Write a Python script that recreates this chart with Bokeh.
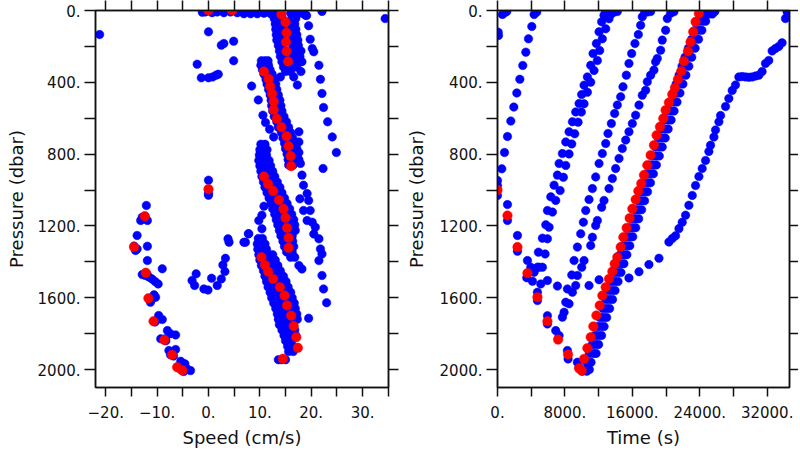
from bokeh.plotting import figure
from bokeh.layouts import row
from bokeh.models import Range1d, FixedTicker, LinearAxis, CustomJSTickFormatter
from bokeh.embed import file_html
from bokeh.resources import INLINE

# ---------------- ticks ----------------
SPEED_TICKS = [-20, -10, 0, 10, 20, 30]
SPEED_LABELS = ["\u221220.", "\u221210.", "0.", "10.", "20.", "30."]
SPEED_MINOR = [-15, -5, 5, 15, 25, 35]
TIME_TICKS = [0, 8000, 16000, 24000, 32000]
TIME_LABELS = ["0.", "8000.", "16000.", "24000.", "32000."]
TIME_MINOR = [4000, 12000, 20000, 28000]
PRES_TICKS = [0, 400, 800, 1200, 1600, 2000]
PRES_LABELS = ["0.", "400.", "800.", "1200.", "1600.", "2000."]
PRES_MINOR = [200, 600, 1000, 1400, 1800]

# ---------------- left panel: speed vs pressure ----------------
top_row_s = [-1.2, -0.6, 0.7, 1.7, 3.0, 4.3, 5.6, 6.9, 8.2, 9.5, 10.8, 12.1, 12.7, 16.6, 17.6, 18.5, 19.1, 22.1, 34.4, -21.2, 18.9]
top_row_p = [10, 8, 12, 8, 12, 8, 12, 18, 18, 18, 15, 18, 15, 18, 15, 18, 28, 5, 45, 134, 26]

scatter_s = [0.0, 2.5, 3.0, 4.9, -2.2, 4.9, -1.4, 0.0, 0.8, 1.5, 1.9, 8.4, 9.7, 0.0, 0.0, 0.0,
             10.6, 11.1, 11.9, 12.7]
scatter_p = [119, 193, 184, 171, 299, 280, 375, 375, 370, 360, 355, 421, 498, 945, 1018, 1029,
             583, 624, 661, 704]

far_right_s = [19.5, 19.8, 20.2, 20.5, 21.5, 21.8, 22.1, 22.4, 23.2, 24.1, 24.9, 22.3,
               17.6, 17.6, 17.6, 17.9, 18.2, 18.5, 19.2,
               17.8, 18.5, 19.5, 19.2, 19.8, 20.2, 20.5, 20.8, 21.5, 21.8, 22.1, 21.5, 22.1, 22.4, 23.0, 19.5,
               17.6, 18.2]
far_right_p = [85, 160, 212, 230, 305, 383, 462, 540, 620, 704, 791, 880,
               676, 732, 791, 852, 917, 973, 1020,
               1049, 1114, 1058, 1170, 1114, 1179, 1245, 1207, 1272, 1328, 1356, 1393, 1476, 1551, 1628, 1714,
               1420, 1440]

# dense bands: rows of pressure with the speeds seen on that row
band_u_p = [15, 45, 75, 105, 135, 165, 195, 225, 255, 285, 315, 340, 370, 415]
band_u_s = [[13.5, 14.2, 16.0], [12.8, 13.6, 14.4, 16.2, 17.0], [13.0, 13.8, 14.3, 16.0, 16.8],
            [13.1, 13.9, 14.5, 16.1, 17.0], [13.2, 14.0, 14.6, 16.3, 17.2], [13.3, 14.1, 16.2, 17.4],
            [13.6, 14.3, 16.4, 17.5], [13.8, 14.5, 16.3, 17.6, 18.0], [14.0, 14.8, 16.5, 17.8],
            [14.3, 15.0, 16.2, 17.6, 18.2], [14.6, 15.6, 16.5, 17.2], [15.0, 16.0, 18.0], [14.0, 16.6], [17.3]]

band_2_p = [280, 305, 330, 355, 385, 410, 440, 470, 500, 530, 560, 590, 620, 650, 680, 710, 740, 770, 800, 830, 860]
band_2_s = [[10.3, 11.0, 11.6], [10.2, 10.9, 11.7], [10.5, 11.4, 12.0], [10.8, 11.6, 12.4], [11.2, 12.2, 12.8],
            [11.4, 12.5, 13.1], [11.7, 12.8, 13.3], [12.0, 13.0, 13.6], [12.2, 13.3, 13.9], [12.3, 13.5, 14.1],
            [12.5, 13.6, 14.3], [12.8, 14.0, 14.7], [13.3, 14.3, 15.2], [13.6, 14.7, 15.6], [14.2, 15.0, 16.0],
            [14.5, 15.8, 16.4], [14.8, 16.2, 16.9], [15.0, 16.4, 17.2], [15.3, 16.6], [15.5, 16.8, 17.6], [15.6, 16.5]]

band_3_p = [745, 775, 805, 835, 865, 895, 925, 955, 985, 1015, 1045, 1075, 1105, 1135, 1165, 1195, 1225,
            1255, 1285, 1315, 1345, 1375, 1090, 1140, 1170, 1216, 1244, 1291]
band_3_s = [[10.2, 11.0], [10.0, 10.8, 11.4], [9.9, 10.6, 11.3], [9.8, 10.5, 11.2, 11.8], [10.0, 10.7, 11.4, 12.1],
            [10.2, 11.0, 11.8, 12.5], [10.4, 11.4, 12.2, 12.9], [10.7, 11.7, 12.6, 13.4], [11.0, 12.0, 13.1, 13.9],
            [11.4, 12.4, 13.5, 14.3], [11.8, 12.9, 14.0, 14.8], [12.2, 13.3, 14.4, 15.3], [12.5, 13.8, 14.9, 15.8],
            [12.9, 14.2, 15.3, 16.2], [13.2, 14.4, 15.6, 16.6], [13.5, 14.6, 15.8, 16.8], [13.8, 14.9, 16.1, 16.9],
            [14.1, 15.1, 16.3], [14.5, 15.3, 16.4], [14.8, 15.9, 16.6], [15.2, 16.3], [16.0, 16.8],
            [10.8], [10.4], [9.8], [10.4], [7.8], [7.2]]

band_4_p = [1270, 1300, 1330, 1360, 1390, 1420, 1450, 1480, 1510, 1540, 1570, 1600, 1630, 1660, 1690,
            1720, 1750, 1780, 1810, 1840, 1870, 1900, 1945]
band_4_s = [[9.7, 10.5], [9.5, 10.2, 11.0], [9.6, 10.4, 11.3], [9.8, 10.8, 11.7, 12.5], [10.0, 11.1, 12.2, 13.0],
            [10.3, 11.4, 12.6, 13.5], [10.7, 11.9, 13.0, 14.0], [11.0, 12.3, 13.5, 14.6], [11.3, 12.8, 14.0, 15.1],
            [11.6, 13.2, 14.4, 15.5], [12.0, 13.5, 14.9, 16.0], [12.3, 13.9, 15.2, 16.3], [12.7, 14.2, 15.6, 16.7],
            [13.1, 14.5, 15.8, 16.9], [13.4, 14.8, 16.0, 17.2], [13.6, 15.0, 16.3, 17.3], [13.8, 15.3, 16.5],
            [14.3, 15.6, 16.8], [14.7, 15.9, 17.0], [15.0, 16.2], [15.4, 16.4], [15.6, 16.5], [13.6, 14.2, 15.0]]

hook_s = [-12.1, -12.9, -13.2, -11.9, -12.4, -13.9, -14.5, -13.9, -11.9, -14.2, -11.9, -9.0, -12.9, -12.3,
          -11.6, -11.0, -10.4, -9.8, -10.6, -10.3, -11.0, -11.3, -9.7, -9.0, -10.0, -8.0, -7.4, -6.4, -9.3,
          -8.4, -7.7, -6.4, -7.4, -5.4, -4.6, -5.8, -4.2, -3.5, -4.8,
          -12.6, -14.3, -12.0, -11.5, -10.4, -8.3, -6.8, -5.6]
hook_p = [1086, 1151, 1170, 1170, 1146, 1253, 1312, 1328, 1313, 1337, 1393, 1439, 1471, 1476,
          1485, 1495, 1509, 1523, 1584, 1597, 1607, 1625, 1699, 1721, 1721, 1783, 1801, 1807, 1829,
          1829, 1894, 1888, 1918, 1954, 1968, 1987, 1996, 2006, 2011,
          1160, 1325, 1468, 1610, 1735, 1840, 1925, 1995]

mid_u_s = [6.9, 7.8, 3.8, 4.0, 3.3, 2.8, 3.2, 2.5, 1.7, 0.6, -0.1, -0.9, -2.7, -3.2, -2.4]
mid_u_p = [1291, 1244, 1272, 1291, 1380, 1417, 1454, 1495, 1532, 1491, 1557, 1551, 1532, 1504, 1467]

red_speed = [0.0, 4.6, 14.2, 15.0, 15.2, 15.1, 15.2, 15.5, 10.8, 11.7, 12.0, 12.4, 12.7, 12.7, 13.3, 14.2,
             15.2, 15.6, 16.0, 16.1, 10.8, 11.6, 12.6, 13.7, 14.6, 15.0, 15.3, 15.6, 15.6, 10.3, 11.0, 11.6,
             12.6, 13.9, 14.8, 15.3, 16.1, 16.6, 17.1, 17.4, 14.5, 0.0, -12.4, -14.5, -12.2, -11.7, -10.7,
             -8.6, -7.1, -6.1, -5.1]
red_speed_p = [0, 0, 22, 65, 124, 176, 228, 284, 340, 381, 423, 464, 507, 553, 603, 650,
               700, 756, 811, 867, 925, 966, 1006, 1055, 1105, 1155, 1211, 1266, 1322, 1374, 1417, 1454,
               1495, 1541, 1588, 1643, 1700, 1758, 1820, 1879, 1940, 995, 1146, 1318, 1461, 1603, 1731,
               1835, 1918, 1987, 2005]

# ---------------- right panel: time vs pressure ----------------
tr1_t = [0, 0, 0, 80, 120, 590, 870, 1100, 510, 830, 1185, 1580, 1935, 2290, 2650, 3000, 3360, 3675, 4070, 4345, 4660]
tr1_p = [947, 975, 1030, 121, 139, 22, 11, 6, 882, 791, 702, 616, 538, 459, 383, 306, 232, 158, 89, 22, 9]

tr2_t = [1185, 1185, 2370, 2370, 3555, 3475, 4150, 3950, 4740, 4740, 5925, 5925, 6910, 7310, 8295, 8375,
         9480, 9680, 10070, 10585, 4740, 5330, 4345, 5135, 5925, 7110]
tr2_p = [1081, 1170, 1253, 1341, 1393, 1489, 1508, 1430, 1569, 1616, 1700, 1746, 1783, 1811, 1894, 1941,
         1959, 1987, 2009, 2009, 1430, 1430, 1458, 1523, 1504, 1535]

tr3_t = [4860, 5330, 5730, 5925, 6320, 6715, 7110, 7310, 7700, 8100, 8490, 8890, 9280, 9680, 9990, 10270,
         10665, 11060, 11340, 11730, 12050, 12360, 12640, 12840,
         5650, 5925, 6120, 6520, 6910, 7430, 7820, 8100, 8490, 8810, 9165, 9560, 9955, 10270, 10665, 11060,
         11455, 11850, 12125, 12440, 12840, 13230, 13510, 13825, 14220, 4940]
tr3_p = [1346, 1268, 1194, 1114, 1038, 973, 917, 852, 797, 732, 676, 620, 565, 518, 468, 416,
         370, 305, 240, 184, 119, 63, 26, 7,
         1356, 1272, 1207, 1123, 1058, 1003, 929, 863, 799, 743, 687, 622, 566, 520, 455, 399,
         334, 279, 223, 158, 102, 46, 19, 9, 6, 1430]

tr4_t = [7700, 7900, 8100, 8490, 8295, 8890, 9280, 8810, 9480, 9085, 9480, 9875, 10190, 10470, 10860, 11260,
         11650, 12050, 12440, 12840, 13110, 13510, 13900, 14220, 14615, 14890, 15290, 15600, 15920, 16310,
         16710, 16985, 17180, 17460, 17775, 18170]
tr4_p = [1708, 1681, 1625, 1634, 1551, 1569, 1532, 1473, 1476, 1393, 1318, 1244, 1179, 1114, 1053, 992,
         927, 852, 797, 741, 685, 630, 574, 527, 481, 425, 360, 295, 240, 184,
         134, 82, 35, 7, 9, 6]

tr5_t = [10860, 9990, 10270, 11060, 11260, 11650, 11850, 12360, 12640, 13230, 13630, 14020, 14420, 14810,
         15210, 15600, 16000, 16390, 16790, 17180, 17580, 17775, 18170, 18565, 18760, 18960, 19355, 19550,
         19950, 20145, 20540, 20935]
tr5_p = [1532, 1430, 1393, 1309, 1263, 1198, 1170, 1096, 1058, 992, 936, 880, 824, 769,
         722, 676, 630, 583, 527, 472, 444, 397, 360, 332, 286, 267, 221, 165,
         110, 45, 15, 7]

tr6_t = [12050, 15600, 16790, 17970, 19160, 20340, 20740, 21130, 21530, 21920, 22320, 22710, 23110, 23500,
         23900, 24290, 24690, 25080, 25280, 25680, 25870, 26270, 26470, 27060, 27450, 27850, 28240, 28640,
         29030, 29430, 29820, 30220, 30620, 31010, 31400, 31800, 32190, 32590, 32980, 33380, 33770, 34170, 34370]
tr6_p = [1500, 1490, 1455, 1415, 1380, 1290, 1270, 1255, 1215, 1180, 1140, 1085, 1030, 975,
         925, 880, 835, 785, 750, 705, 665, 620, 585, 535, 490, 445, 415, 370,
         368, 370, 372, 370, 365, 360, 340, 295, 278, 225, 212, 200, 180, 45, 8]

band_d_p = [2000, 1960, 1910, 1860, 1810, 1760, 1710, 1660, 1610, 1560, 1510, 1460, 1410, 1360, 1310, 1260,
            1210, 1160, 1110, 1060, 1010, 960, 910, 860, 810, 760, 710, 660, 610, 560, 510, 460, 410, 360,
            310, 260, 210, 160, 110, 60, 20, 5]
band_d_t = [[10450, 10900], [10600, 11100], [10900, 11350, 11700], [11250, 11650, 12000], [11550, 11950, 12350],
            [11850, 12250, 12650], [12150, 12550, 12950], [12500, 12900, 13300], [12850, 13250, 13650],
            [13150, 13550, 13950], [13500, 13900, 14300], [13850, 14250, 14650], [14200, 14600, 15000],
            [14550, 14950, 15350], [14900, 15300, 15700], [15250, 15650, 16050], [15600, 16000, 16400],
            [15950, 16350, 16750], [16300, 16700, 17100], [16650, 17050, 17450], [17000, 17400, 17800],
            [17350, 17750, 18150], [17700, 18100, 18500], [18050, 18450, 18850], [18400, 18800, 19200],
            [18750, 19150, 19550], [19100, 19500, 19900], [19450, 19850, 20250], [19800, 20200, 20600],
            [20150, 20550, 20950], [20500, 20900, 21300], [20850, 21250, 21650], [21200, 21600, 22000],
            [21550, 21950, 22350], [21900, 22300, 22700], [22250, 22650, 23050], [22650, 23050, 23450],
            [23050, 23450, 23850], [23450, 23850, 24250], [23900, 24300, 24700], [24300, 24700, 25100, 25500],
            [24600, 25000, 25400, 25800]]

red_time = [0, 1185, 2370, 3555, 4740, 5925, 7190, 8370, 9680, 9990,
            10270, 10665, 11060, 11376, 11732, 12127, 12443, 12838, 13233, 13628, 13904, 14220, 14615, 14931,
            15326, 15682, 15998, 16393, 16710, 17064, 17380, 17775, 18170, 18565, 18881, 19276, 19671, 19948,
            20343, 20738, 21054, 21409, 21804, 22120, 22594, 22910, 23226, 23503, 23898]
red_time_p = [1000, 1142, 1318, 1463, 1597, 1731, 1833, 1916, 1993, 2006,
              1941, 1881, 1820, 1760, 1699, 1643, 1588, 1541, 1495, 1454, 1411, 1374, 1318, 1263,
              1211, 1157, 1105, 1053, 1006, 964, 917, 862, 806, 750, 695, 648, 602, 555,
              513, 468, 431, 384, 338, 282, 227, 175, 119, 63, 17]

BLUE = "#0000ff"
RED = "#ff0000"
FONT = "DejaVu Sans"
INK = "#111111"


def expand(rows_p, rows_v):
    xs, ys = [], []
    for pv, vals in zip(rows_p, rows_v):
        for v in vals:
            xs.append(v)
            ys.append(pv)
    return xs, ys


def style_axis(ax, ticks, minor, labels, show_labels, tick_out=10):
    ax.ticker = FixedTicker(ticks=ticks, minor_ticks=minor)
    ax.major_tick_out = tick_out
    ax.major_tick_in = 0
    ax.minor_tick_out = tick_out
    ax.minor_tick_in = 0
    ax.major_tick_line_color = INK
    ax.minor_tick_line_color = INK
    ax.major_tick_line_width = 1.5
    ax.minor_tick_line_width = 1.5
    ax.axis_line_color = INK
    ax.axis_line_width = 1.5
    if show_labels:
        ax.major_label_overrides = dict(zip(ticks, labels))
        ax.major_label_text_font = FONT
        ax.major_label_text_font_size = "15px"
        ax.major_label_text_color = INK
    else:
        ax.formatter = CustomJSTickFormatter(code="return ''")
        ax.major_label_text_font_size = "0px"
        ax.major_label_standoff = 0


def make_fig(x_range, xticks, xminor, xlabels, xlabel, left_border, right_border, frame_w,
             ylab_standoff, right_tick):
    p = figure(frame_width=frame_w, frame_height=377,
               x_range=Range1d(*x_range), y_range=Range1d(2100, 0),
               output_backend="svg", toolbar_location=None,
               min_border_left=left_border, min_border_right=right_border,
               min_border_top=10, min_border_bottom=61)
    p.grid.visible = False
    p.outline_line_color = INK
    p.outline_line_width = 1.5
    p.background_fill_color = "white"
    p.border_fill_color = "white"

    xa = p.xaxis[0]
    style_axis(xa, xticks, xminor, xlabels, True, tick_out=9)
    xa.major_label_standoff = 9
    xa.axis_label = xlabel
    xa.axis_label_text_font = FONT
    xa.axis_label_text_font_style = "normal"
    xa.axis_label_text_font_size = "18px"
    xa.axis_label_text_color = INK
    xa.axis_label_standoff = 6

    ya = p.yaxis[0]
    style_axis(ya, PRES_TICKS, PRES_MINOR, PRES_LABELS, True, tick_out=11)
    ya.major_label_standoff = 4
    ya.axis_label = "Pressure (dbar)"
    ya.axis_label_text_font = FONT
    ya.axis_label_text_font_style = "normal"
    ya.axis_label_text_font_size = "18px"
    ya.axis_label_text_color = INK
    ya.axis_label_standoff = ylab_standoff

    top = LinearAxis()
    style_axis(top, xticks, xminor, xlabels, False, tick_out=10)
    p.add_layout(top, "above")
    right = LinearAxis()
    style_axis(right, PRES_TICKS, PRES_MINOR, PRES_LABELS, False, tick_out=right_tick)
    p.add_layout(right, "right")
    return p


# ---- left figure ----
p1 = make_fig((-22, 35.05), SPEED_TICKS, SPEED_MINOR, SPEED_LABELS, "Speed (cm/s)", 95, 12, 293, 8, 10)
ls, lp = [], []
for s_list, p_list in [(top_row_s, top_row_p), (scatter_s, scatter_p), (far_right_s, far_right_p),
                       (hook_s, hook_p), (mid_u_s, mid_u_p)]:
    ls += s_list
    lp += p_list
for rp, rv in [(band_u_p, band_u_s), (band_2_p, band_2_s), (band_3_p, band_3_s), (band_4_p, band_4_s)]:
    xs, ys = expand(rp, rv)
    ls += xs
    lp += ys
p1.scatter(ls, lp, marker="circle", size=8.5, fill_color=BLUE, line_color=BLUE, line_width=0.5)
p1.scatter(red_speed, red_speed_p, marker="circle", size=9.5, fill_color=RED, line_color=RED, line_width=0.5)

# ---- right figure ----
p2 = make_fig((0, 34650), TIME_TICKS, TIME_MINOR, TIME_LABELS, "Time (s)", 97, 9, 292, 10, 9)
rt, rp_ = [], []
for t_list, p_list in [(tr1_t, tr1_p), (tr2_t, tr2_p), (tr3_t, tr3_p), (tr4_t, tr4_p),
                       (tr5_t, tr5_p), (tr6_t, tr6_p)]:
    rt += t_list
    rp_ += p_list
xs, ys = expand(band_d_p, band_d_t)
rt += xs
rp_ += ys
p2.scatter(rt, rp_, marker="circle", size=8.5, fill_color=BLUE, line_color=BLUE, line_width=0.5)
p2.scatter(red_time, red_time_p, marker="circle", size=9.5, fill_color=RED, line_color=RED, line_width=0.5)

layout = row(p1, p2, spacing=0)
open("out.html", "w").write(file_html(layout, INLINE))
